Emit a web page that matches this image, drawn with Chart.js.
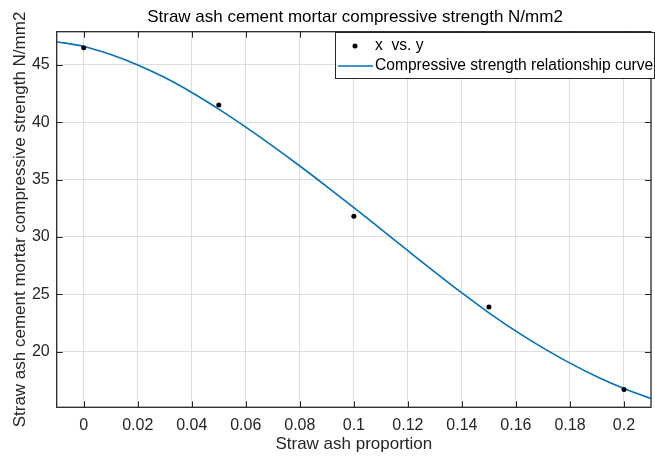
<!DOCTYPE html>
<html>
<head>
<meta charset="utf-8">
<script src="https://cdn.jsdelivr.net/npm/chart.js@4.4.0/dist/chart.umd.min.js"></script>
<style>
  html, body { margin: 0; padding: 0; background: #fff; }
  #wrap { width: 655px; height: 456px; position: relative; }
</style>
</head>
<body>
<div id="wrap"><canvas id="chart"></canvas></div>
<script>
// ===== DATA =====
const pointX = [0, 0.05, 0.1, 0.15, 0.2];
const pointY = [46.5, 41.5, 31.8, 23.9, 16.7];

// fitted curve, every 0.01
const curveX = [-0.01, 0, 0.01, 0.02, 0.03, 0.04, 0.05, 0.06, 0.07, 0.08, 0.09, 0.1,
  0.11, 0.12, 0.13, 0.14, 0.15, 0.16, 0.17, 0.18, 0.19, 0.2, 0.21];
const curveY = [47.03, 46.61, 45.91, 45.0, 43.9, 42.6, 41.15, 39.58, 37.92, 36.19, 34.4, 32.56,
  30.69, 28.81, 26.94, 25.12, 23.39, 21.79, 20.33, 19.0, 17.82, 16.79, 15.91];

const xTicks = [0, 0.02, 0.04, 0.06, 0.08, 0.1, 0.12, 0.14, 0.16, 0.18, 0.2];
const yTicks = [20, 25, 30, 35, 40, 45];

const TITLE = 'Straw ash cement mortar compressive strength N/mm2';
const X_LABEL = 'Straw ash proportion';
const Y_LABEL = 'Straw ash cement mortar compressive strength N/mm2';
const LEGEND = ['x  vs. y', 'Compressive strength relationship curve'];

const FONT = "'Liberation Sans', Arial, Helvetica, sans-serif";
const INK = '#262626';
const BLUE = '#0072BD';

// ===== MATLAB-LIKE FRAME, TITLE, LEGEND =====
const framePlugin = {
  id: 'matlabFrame',
  afterDatasetsDraw(chart) {
    const { ctx, chartArea: { left, right, top, bottom }, scales: { x, y } } = chart;
    ctx.save();
    ctx.strokeStyle = INK;
    ctx.lineWidth = 1.3;
    ctx.strokeRect(left, top, right - left, bottom - top);

    // inward ticks on all four sides
    ctx.lineWidth = 1;
    ctx.beginPath();
    xTicks.forEach(v => {
      const px = Math.round(x.getPixelForValue(v)) + 0.5;
      ctx.moveTo(px, bottom); ctx.lineTo(px, bottom - 6);
      ctx.moveTo(px, top); ctx.lineTo(px, top + 6);
    });
    yTicks.forEach(v => {
      const py = Math.round(y.getPixelForValue(v)) + 0.5;
      ctx.moveTo(left, py); ctx.lineTo(left + 6, py);
      ctx.moveTo(right, py); ctx.lineTo(right - 6, py);
    });
    ctx.stroke();

    // title
    ctx.fillStyle = '#000';
    ctx.font = `17px ${FONT}`;
    ctx.textAlign = 'center';
    ctx.textBaseline = 'middle';
    ctx.fillText(TITLE, 355, 17);

    // legend
    const lx = 335, ly = 32, lw = 319, lh = 46;
    ctx.fillStyle = '#fff';
    ctx.fillRect(lx, ly, lw, lh);
    ctx.strokeStyle = INK;
    ctx.lineWidth = 1;
    ctx.strokeRect(lx + 0.5, ly + 0.5, lw, lh);

    ctx.fillStyle = '#000';
    ctx.beginPath();
    ctx.arc(355, 46, 2.5, 0, Math.PI * 2);
    ctx.fill();

    ctx.strokeStyle = BLUE;
    ctx.lineWidth = 1.5;
    ctx.beginPath();
    ctx.moveTo(338, 66); ctx.lineTo(373, 66);
    ctx.stroke();

    ctx.fillStyle = '#000';
    ctx.font = `15.6px ${FONT}`;
    ctx.textAlign = 'left';
    ctx.fillText(LEGEND[0], 375, 46);
    ctx.fillText(LEGEND[1], 375, 66);
    ctx.restore();
  }
};

// ===== CHART =====
new Chart(document.getElementById('chart'), {
  type: 'scatter',
  data: {
    datasets: [
      {
        label: LEGEND[0],
        data: pointX.map((v, i) => ({ x: v, y: pointY[i] })),
        pointRadius: 2.5,
        pointBackgroundColor: '#000',
        pointBorderWidth: 0,
        showLine: false,
        order: 0
      },
      {
        label: LEGEND[1],
        data: curveX.map((v, i) => ({ x: v, y: curveY[i] })),
        showLine: true,
        borderColor: BLUE,
        borderWidth: 1.6,
        pointRadius: 0,
        cubicInterpolationMode: 'monotone',
        order: 1
      }
    ]
  },
  options: {
    responsive: true,
    maintainAspectRatio: false,
    animation: false,
    devicePixelRatio: 1,
    layout: { padding: { top: 31.7, right: 0, bottom: 0, left: 0 } },
    plugins: {
      legend: { display: false },
      title: { display: false },
      tooltip: { enabled: false }
    },
    scales: {
      x: {
        type: 'linear',
        min: -0.01,
        max: 0.21,
        afterBuildTicks: s => { s.ticks = xTicks.map(v => ({ value: v })); },
        afterFit: s => { s.height = 48.7; },
        ticks: {
          color: INK,
          font: { family: FONT, size: 16 },
          padding: 9,
          maxRotation: 0,
          autoSkip: false,
          callback: v => String(v)
        },
        grid: { color: '#dedede', drawTicks: false, lineWidth: 1 },
        border: { display: false },
        title: {
          display: true,
          text: X_LABEL,
          color: INK,
          font: { family: FONT, size: 17 },
          padding: { top: 0, bottom: 1 }
        }
      },
      y: {
        min: 15.15,
        max: 47.9,
        afterBuildTicks: s => { s.ticks = yTicks.map(v => ({ value: v })); },
        afterFit: s => { s.width = 56.7; },
        ticks: {
          color: INK,
          font: { family: FONT, size: 16 },
          padding: 7,
          autoSkip: false
        },
        grid: { color: '#dedede', drawTicks: false, lineWidth: 1 },
        border: { display: false },
        title: {
          display: true,
          text: Y_LABEL,
          color: INK,
          font: { family: FONT, size: 17 },
          padding: { top: 10, bottom: 0 }
        }
      }
    }
  },
  plugins: [framePlugin]
});
</script>
</body>
</html>
